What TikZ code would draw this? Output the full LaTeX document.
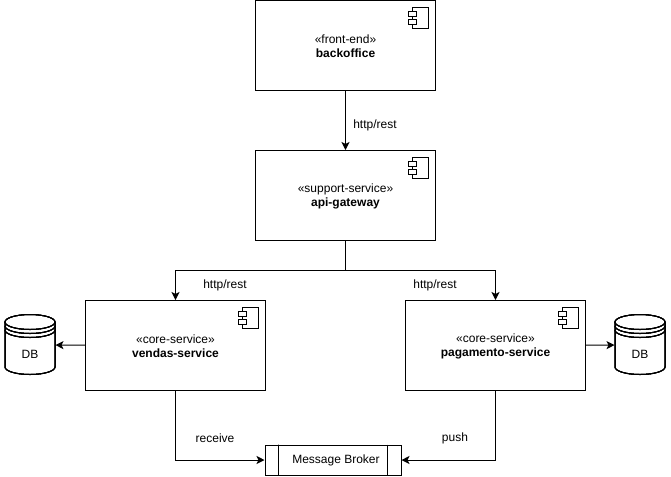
\documentclass[tikz,border=0pt]{standalone}
\usepackage{fontspec}
\setmainfont{Liberation Sans}
\usetikzlibrary{arrows.meta}
\tikzset{
    compbox/.style={draw,minimum width=135pt,minimum height=67.5pt,align=center,inner sep=0pt,font=\fontsize{9}{10.5}\selectfont},
    brokerbox/.style={draw,minimum width=102pt,minimum height=22.5pt,inner sep=0pt,font=\fontsize{9}{10.5}\selectfont},
    dbspace/.style={minimum width=37.5pt,minimum height=45pt,inner sep=0pt},
    flow/.style={-{Stealth[length=6pt,width=6pt,inset=1.5pt]}},
    flowlabel/.style={inner sep=0pt,font=\fontsize{9}{10.5}\selectfont},
}
% stereotype line, with a strut that sets the text a little lower in the box
\newcommand{\stereo}[1]{\rule{0pt}{8.2pt}«#1»}
% component mark, top right of a box
\newcommand{\compicon}[1]{
    \draw[fill=white] ([shift={(-24,7)}]#1.north east) rectangle ([shift={(-8,28)}]#1.north east);
    \foreach \y in {11,19}
        \draw[fill=white] ([shift={(-28,\y)}]#1.north east) rectangle ([shift={(-20,\y+5)}]#1.north east);
}
% drum round a DB node
\newcommand{\dbdrum}[1]{
    \draw ([shift={(-25,7.5)}]#1.north) -- ([shift={(-25,52.5)}]#1.north)
        arc[start angle=180,end angle=0,x radius=25,y radius=7.5]
        -- ([shift={(25,7.5)}]#1.north);
    \draw ([shift={(0,7.5)}]#1.north) ellipse[x radius=25,y radius=7.5];
    \foreach \d in {4,8}
        \draw ([shift={(-25,7.5+\d)}]#1.north)
            arc[start angle=180,end angle=0,x radius=25,y radius=7.5];
}
\begin{document}
\begin{tikzpicture}[x=0.75pt,y=-0.75pt,line width=0.75pt]
    \useasboundingbox (0,0) rectangle (671,476);
    \fill[white] (0,0) rectangle (671,476);
    \node[compbox] (backoffice) at (345.5,45.5) {\stereo{front-end}\\\textbf{backoffice}};
    \node[compbox] (gateway) at (345.5,195.5) {\stereo{support-service}\\\textbf{api-gateway}};
    \node[compbox] (vendas) at (175.5,345.5) {\stereo{core-service}\\\textbf{vendas-service}};
    \node[compbox] (pagamento) at (495.5,345.5) {\stereo{core-service}\\\textbf{pagamento-service}};
    \node[brokerbox] (broker) at (333,460) {\hspace*{4.5pt}Message Broker};
    \node[dbspace] (dbleft) at (30,345) {};
    \node[dbspace] (dbright) at (640,345) {};
    \node[flowlabel] (dbleftlabel) at (30,354) {DB};
    \node[flowlabel] (dbrightlabel) at (640,354) {DB};
    \coordinate (split) at (345.5,270.5);

    \foreach \n in {backoffice,gateway,vendas,pagamento}
        \compicon{\n}
    \foreach \n in {dbleft,dbright}
        \dbdrum{\n}
    \draw ([shift={(14,0)}]broker.north west) -- ([shift={(14,0)}]broker.south west);
    \draw ([shift={(-14,0)}]broker.north east) -- ([shift={(-14,0)}]broker.south east);

    \draw[flow] (backoffice) -- (gateway);
    \draw (gateway) -- (split);
    \draw[flow] (split) -| (vendas);
    \draw[flow] (split) -| (pagamento);
    \draw[flow] (vendas) -- (dbleft);
    \draw[flow] (pagamento) -- (dbright);
    \draw[flow] (vendas) |- (broker);
    \draw[flow] (pagamento) |- (broker);

    \node[flowlabel] (lblrest) at (375,125) {http/rest};
    \node[flowlabel] (lblvendas) at (225,285) {http/rest};
    \node[flowlabel] (lblpagamento) at (435,285) {http/rest};
    \node[flowlabel] (lblreceive) at (215,438) {receive};
    \node[flowlabel] (lblpush) at (455,438) {push};
\end{tikzpicture}
\end{document}
